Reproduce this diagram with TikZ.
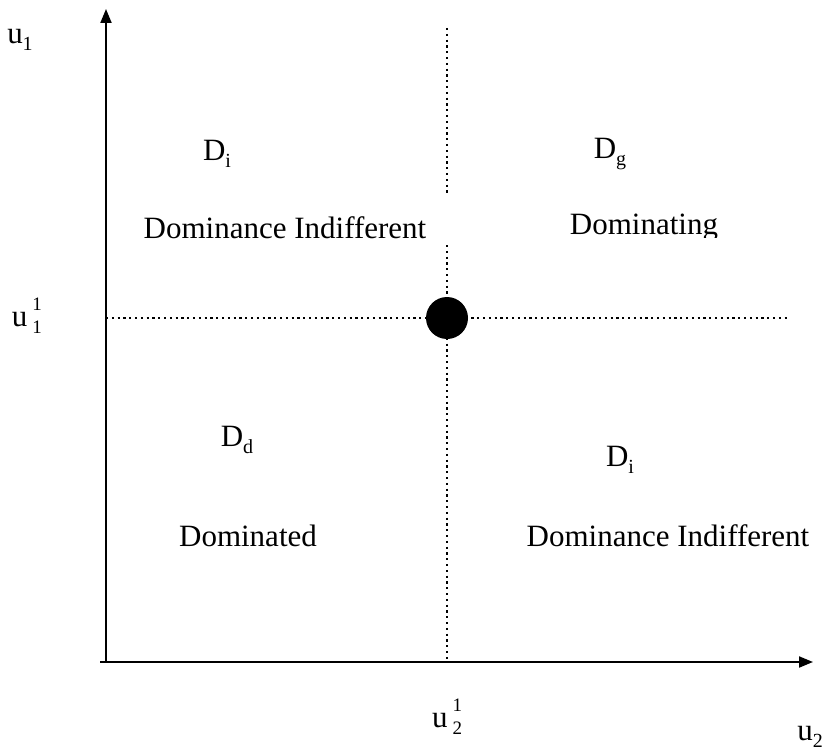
\documentclass[tikz,border=0pt]{standalone}
\usepackage{fontspec}
\setmainfont{Liberation Serif}
\usetikzlibrary{arrows.meta}
\newcommand{\sbs}[1]{\raisebox{-0.22em}{\fontsize{20}{20}\selectfont #1}}
\newcommand{\stk}[2]{\raisebox{-7pt}{\fontsize{19}{19}\selectfont\begin{tabular}[b]{@{}l@{}}#1\\[4pt]#2\end{tabular}}}
\begin{document}
\begin{tikzpicture}[x=1pt,y=-1pt,
  lbl/.style={inner sep=0pt,font=\fontsize{31}{36}\selectfont},
  axis/.style={line width=2pt,-{Triangle[length=14pt,width=11pt]}},
  dotline/.style={line width=2.2pt,dash pattern=on 2.2pt off 3.6pt},
  dot/.style={circle,fill=black,minimum size=42pt,inner sep=0pt}]
\useasboundingbox (0,0) rectangle (822,749);
% axes
\coordinate (o1) at (106,662);
\coordinate (ytip) at (106,9);
\coordinate (o2) at (100,662);
\coordinate (xtip) at (813,662);
\draw[axis] (o1) -- (ytip);
\draw[axis] (o2) -- (xtip);
% dotted lines
\coordinate (vt) at (447,28);
\coordinate (vm1) at (447,195);
\coordinate (vm2) at (447,245);
\coordinate (vb) at (447,662);
\coordinate (hl) at (106,318);
\coordinate (hr) at (790,318);
\draw[dotline] (vt) -- (vm1);
\draw[dotline] (vm2) -- (vb);
\draw[dotline] (hl) -- (hr);
\node[dot] (pt) at (447,318) {};
% axis labels
\node[lbl] (u1) at (20,40) {u\sbs{1}};
\node[lbl] (u11) at (27,318) {u\kern5pt\stk{1}{1}};
\node[lbl] (u21) at (447,719) {u\kern5pt\stk{1}{2}};
\node[lbl] (u2) at (810,737) {u\sbs{2}};
% region labels
\node[lbl] (di1) at (217,154) {D\sbs{i}};
\node[lbl] (t1) at (285,228) {Dominance Indifferent};
\node[lbl] (dg) at (610,154) {D\sbs{g}};
\begin{scope}
\clip (540,180) rectangle (760,237);
\node[lbl] (t2) at (644,228) {Dominating};
\end{scope}
\node[lbl] (dd) at (237,440) {D\sbs{d}};
\node[lbl] (t3) at (248,536) {Dominated};
\node[lbl] (di2) at (620,460) {D\sbs{i}};
\node[lbl] (t4) at (668,536) {Dominance Indifferent};
\end{tikzpicture}
\end{document}
